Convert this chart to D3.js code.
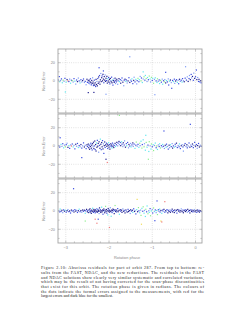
<!DOCTYPE html>
<html><head><meta charset="utf-8">
<script src="https://cdn.jsdelivr.net/npm/d3@7"></script>
<style>body{margin:0;background:#fff}svg{display:block}</style>
</head><body>
<script>
const xTicks = [-3, -2, -1, 0];
const yTicks = [-20, 0, 20];
const xLabel = "Rotation phase";
const yLabel = "Norm.Error";
const errColors = ["#1e1e8e", "#3a4ce0", "#7f9cf5", "#5ee6ee", "#8cef8c", "#f0dc5c", "#f07a7a"];
const caption = [
 "Figure 2.10: Abscissa residuals for part of orbit 287. From top to bottom: re-",
 "sults from the FAST, NDAC, and the new reductions. The residuals in the FAST",
 "and NDAC solutions show clearly very similar systematic and correlated variations,",
 "which may be the result of not having corrected for the scan-phase discontinuities",
 "that exist for this orbit. The rotation phase is given in radians. The colours of",
 "the dots indicate the formal errors assigned to the measurements, with red for the",
 "largest errors and dark blue for the smallest."
];
// [phase, residual, error class]
const fastPts = [[-3.17,1.2,2],[-3.15,4.8,1],[-3.14,-0.8,3],[-3.12,0.6,2],[-3.10,2.3,1],[-3.08,-1.9,3],[-3.06,0.9,4],[-3.04,-0.3,2],[-3.02,2.9,1],[-3.01,-12,3],[-2.99,-1.2,3],[-2.97,1.6,0],[-2.95,0.2,6],[-2.93,-0.6,1],[-2.91,2.1,2],[-2.89,-2.4,3],[-2.87,0.8,1],[-2.85,0.4,4],[-2.83,-1.1,2],[-2.81,2.6,1],[-2.79,-0.2,3],[-2.77,-3.4,2],[-2.75,1.1,1],[-2.73,-0.7,0],[-2.71,3.2,2],[-2.69,0.1,1],[-2.67,-2.1,3],[-2.65,1.4,1],[-2.63,-1.0,2],[-2.61,0.5,0],[-2.59,2.2,1],[-2.57,-1.6,2],[-2.55,-0.4,1],[-2.53,-4.1,2],[-2.51,1.9,0],[-2.50,-1.5,1],[-2.48,-12.7,0],[-2.48,0.3,0],[-2.47,-2.2,1],[-2.46,1.0,0],[-2.45,-3.0,2],[-2.44,-0.8,0],[-2.43,2.4,1],[-2.42,-1.8,0],[-2.41,-4.2,1],[-2.40,0.6,0],[-2.39,-2.7,0],[-2.38,3.5,2],[-2.37,-1.2,0],[-2.36,-5.0,1],[-2.35,-12.5,0],[-2.35,-3.3,0],[-2.34,0.9,1],[-2.33,-4.6,0],[-2.32,-2.0,0],[-2.31,-6.1,1],[-2.30,1.8,0],[-2.29,-3.8,0],[-2.28,-0.5,2],[-2.27,-5.3,0],[-2.26,2.7,1],[-2.25,-2.6,0],[-2.24,4.4,0],[-2.23,14.5,1],[-2.23,-1.1,0],[-2.22,6.0,1],[-2.21,-3.5,0],[-2.20,1.3,0],[-2.19,8.2,2],[-2.18,-0.7,0],[-2.17,3.6,0],[-2.16,5.5,1],[-2.15,0.2,0],[-2.14,7.3,0],[-2.13,11.0,1],[-2.13,2.1,0],[-2.12,-1.9,1],[-2.11,4.8,0],[-2.10,1.0,0],[-2.09,6.6,2],[-2.08,-0.4,0],[-2.07,-14.5,2],[-2.07,3.0,0],[-2.06,0.5,1],[-2.05,5.1,0],[-2.04,-2.3,0],[-2.03,2.5,3],[-2.02,0.0,0],[-2.01,3.9,1],[-2.00,-1.4,0],[-1.99,1.7,0],[-1.98,-3.1,1],[-1.97,2.8,0],[-1.96,0.3,2],[-1.95,-0.9,0],[-1.94,4.2,1],[-1.93,-2.0,0],[-1.92,1.1,3],[-1.91,-4.5,1],[-1.90,0.4,0],[-1.89,2.3,2],[-1.88,-1.5,0],[-1.87,-0.2,1],[-1.86,3.1,0],[-1.85,-2.8,2],[-1.84,0.8,0],[-1.83,-1.0,1],[-1.82,1.9,0],[-1.80,-3.6,2],[-1.79,0.2,1],[-1.77,2.6,0],[-1.76,-0.7,3],[-1.74,1.5,1],[-1.73,-2.4,0],[-1.71,0.6,2],[-1.70,3.3,1],[-1.68,-1.3,0],[-1.66,-5.2,2],[-1.65,0.9,1],[-1.63,2.0,0],[-1.61,-0.5,3],[-1.60,1.2,1],[-1.58,-2.2,2],[-1.56,0.1,0],[-1.54,3.6,1],[-1.52,26.5,2],[-1.52,-1.6,0],[-1.50,1.0,2],[-1.48,-0.3,1],[-1.47,2.4,3],[-1.45,-2.9,1],[-1.43,0.7,0],[-1.42,4.1,2],[-1.40,-1.0,1],[-1.38,1.8,3],[-1.36,-3.2,2],[-1.35,0.4,1],[-1.33,2.9,4],[-1.31,-0.8,1],[-1.30,1.5,3],[-1.28,5.0,2],[-1.26,0.2,4],[-1.25,3.3,1],[-1.23,-1.7,3],[-1.21,10.0,3],[-1.21,2.2,2],[-1.19,4.6,4],[-1.17,0.9,1],[-1.16,6.1,3],[-1.14,2.7,4],[-1.12,-0.6,2],[-1.11,3.8,3],[-1.09,1.4,1],[-1.07,5.4,4],[-1.05,2.1,3],[-1.04,-1.1,2],[-1.02,4.0,4],[-1.00,0.6,1],[-0.99,2.9,3],[-0.97,-2.5,4],[-0.95,1.8,2],[-0.94,-15.0,2],[-0.93,3.5,3],[-0.91,0.1,1],[-0.89,-1.6,3],[-0.88,2.4,4],[-0.86,-0.4,2],[-0.84,1.2,1],[-0.83,-2.8,3],[-0.81,0.7,4],[-0.79,-1.3,1],[-0.77,2.0,2],[-0.76,-3.5,3],[-0.74,0.3,1],[-0.72,-0.9,4],[-0.71,1.6,2],[-0.69,9.5,1],[-0.69,-2.1,0],[-0.67,0.5,3],[-0.65,-1.0,1],[-0.63,2.3,2],[-0.62,-4.4,1],[-0.60,-0.2,3],[-0.58,1.1,0],[-0.56,-1.8,2],[-0.55,-8.0,1],[-0.53,0.6,1],[-0.51,-0.7,3],[-0.49,2.0,1],[-0.48,-2.6,2],[-0.46,0.0,0],[-0.44,1.4,1],[-0.42,-1.5,3],[-0.40,0.8,2],[-0.39,-3.0,1],[-0.37,1.9,0],[-0.35,-0.4,2],[-0.33,0.9,1],[-0.31,-1.2,3],[-0.30,2.6,1],[-0.28,0.3,2],[-0.26,-0.8,0],[-0.24,3.1,1],[-0.23,15.6,2],[-0.21,1.0,1],[-0.19,4.5,2],[-0.17,-0.5,0],[-0.15,2.7,1],[-0.14,6.0,2],[-0.12,1.5,0],[-0.10,7.2,1],[-0.09,3.4,2],[-0.07,5.0,0],[-0.05,0.8,1],[-0.04,8.6,2],[-0.02,2.9,0],[0.00,4.7,1],[0.02,12.0,1],[0.03,1.6,0],[0.05,3.8,2],[0.07,-0.5,1],[0.08,1.8,0],[0.10,-1.0,1],[0.12,0.4,0],[0.13,-2.0,1]];
const ndacPts = [[-3.16,0.5,2],[-3.14,-1.2,1],[-3.13,9.0,1],[-3.11,1.8,3],[-3.09,-0.4,2],[-3.07,2.5,1],[-3.05,-2.0,3],[-3.03,0.9,2],[-3.01,-0.8,4],[-2.99,1.5,1],[-2.97,3.0,2],[-2.95,-1.5,0],[-2.93,0.4,3],[-2.91,-2.6,1],[-2.89,1.2,2],[-2.87,0.0,6],[-2.85,2.2,1],[-2.83,-1.0,3],[-2.81,0.7,2],[-2.79,-3.1,1],[-2.77,1.9,0],[-2.75,-0.3,2],[-2.73,2.8,1],[-2.71,-1.7,3],[-2.69,0.5,1],[-2.67,-0.9,2],[-2.65,1.6,0],[-2.63,-12.7,1],[-2.63,-2.3,1],[-2.61,0.2,2],[-2.59,3.4,1],[-2.57,-1.1,0],[-2.55,0.8,2],[-2.53,-2.9,1],[-2.51,1.3,0],[-2.50,-0.6,1],[-2.48,2.1,0],[-2.47,-1.9,0],[-2.46,0.4,1],[-2.45,-3.6,0],[-2.44,1.7,2],[-2.43,-0.5,0],[-2.42,3.0,1],[-2.41,-2.4,0],[-2.40,0.9,0],[-2.39,-4.3,1],[-2.38,2.5,0],[-2.37,-1.0,2],[-2.36,4.1,0],[-2.35,-2.8,0],[-2.34,0.1,1],[-2.33,5.4,0],[-2.32,-3.9,1],[-2.31,1.6,0],[-2.30,-5.5,0],[-2.29,3.3,3],[-2.28,-1.4,0],[-2.27,6.2,1],[-2.26,-0.2,0],[-2.25,2.8,0],[-2.24,-6.8,2],[-2.23,4.6,0],[-2.22,0.7,1],[-2.21,-2.5,0],[-2.20,7.5,3],[-2.19,1.9,0],[-2.18,-4.0,1],[-2.17,3.8,0],[-2.16,-0.9,0],[-2.15,5.9,1],[-2.14,-3.2,0],[-2.13,2.3,2],[-2.12,-8.1,1],[-2.11,0.4,0],[-2.10,4.4,0],[-2.09,-1.6,1],[-2.08,1.2,0],[-2.07,-14.5,0],[-2.06,3.1,1],[-2.05,-0.4,0],[-2.04,-18.0,6],[-2.04,2.0,0],[-2.03,-2.7,1],[-2.02,0.8,0],[-2.01,3.6,3],[-2.00,-1.2,0],[-1.99,1.5,1],[-1.98,-3.4,0],[-1.97,0.3,2],[-1.96,2.4,0],[-1.95,-0.8,1],[-1.94,1.0,0],[-1.93,-2.1,3],[-1.92,3.2,1],[-1.91,-0.3,0],[-1.90,1.8,2],[-1.89,-1.7,0],[-1.88,0.6,1],[-1.86,2.9,0],[-1.85,-0.6,3],[-1.83,1.4,1],[-1.82,4.0,0],[-1.80,0.2,2],[-1.79,3.1,1],[-1.77,5.0,0],[-1.76,33.5,4],[-1.76,1.6,2],[-1.74,3.8,1],[-1.73,0.4,0],[-1.71,4.6,3],[-1.70,2.0,1],[-1.68,-0.7,2],[-1.67,3.5,0],[-1.65,1.1,1],[-1.64,5.6,2],[-1.62,-1.3,0],[-1.60,2.6,1],[-1.59,0.3,3],[-1.57,3.9,1],[-1.55,-2.0,2],[-1.54,1.7,0],[-1.52,0.0,1],[-1.50,2.8,2],[-1.49,-1.0,3],[-1.47,1.2,1],[-1.45,3.4,0],[-1.44,-0.5,2],[-1.42,2.1,1],[-1.40,-2.6,3],[-1.38,0.9,1],[-1.37,4.3,4],[-1.35,-0.2,2],[-1.33,1.8,1],[-1.31,-1.5,3],[-1.29,3.0,4],[-1.28,0.4,2],[-1.26,5.2,3],[-1.24,-2.3,4],[-1.23,1.6,1],[-1.21,6.8,3],[-1.19,-0.9,4],[-1.18,2.5,2],[-1.16,-4.6,3],[-1.15,11.7,3],[-1.14,3.9,4],[-1.12,-1.4,3],[-1.10,1.0,1],[-1.09,-14.5,4],[-1.08,-6.0,3],[-1.07,4.7,4],[-1.05,0.2,2],[-1.03,-3.3,3],[-1.02,2.2,4],[-1.00,-0.8,1],[-0.98,1.5,3],[-0.97,-5.0,4],[-0.95,0.6,2],[-0.93,3.2,3],[-0.91,-1.9,1],[-0.90,0.0,4],[-0.88,-3.8,3],[-0.86,1.2,2],[-0.84,-0.6,1],[-0.83,2.4,3],[-0.81,-2.2,4],[-0.79,0.4,1],[-0.77,-1.1,2],[-0.76,1.7,3],[-0.74,-0.3,1],[-0.73,16.4,1],[-0.72,-2.7,2],[-0.70,0.8,0],[-0.68,-1.4,3],[-0.67,2.0,1],[-0.65,-0.5,2],[-0.63,-3.4,1],[-0.61,0.9,0],[-0.60,-1.8,2],[-0.58,1.3,3],[-0.56,-0.7,1],[-0.54,2.6,2],[-0.53,-2.3,0],[-0.51,0.1,1],[-0.49,-1.2,3],[-0.47,1.9,1],[-0.46,-0.4,2],[-0.44,3.1,0],[-0.42,-1.7,1],[-0.40,0.6,2],[-0.38,-0.9,1],[-0.37,2.3,3],[-0.35,-2.8,1],[-0.33,0.3,0],[-0.31,1.5,2],[-0.29,-1.0,1],[-0.28,-5.6,2],[-0.26,0.8,0],[-0.24,2.7,1],[-0.22,-0.6,2],[-0.20,1.4,0],[-0.19,-2.0,1],[-0.17,0.0,2],[-0.15,3.3,1],[-0.13,-1.3,0],[-0.12,23.7,1],[-0.11,1.1,2],[-0.09,-0.5,1],[-0.07,2.2,0],[-0.05,-1.8,1],[-0.04,0.7,2],[-0.02,4.0,1],[0.00,-0.2,0],[0.02,1.6,1],[0.04,-2.5,2],[0.05,0.5,0],[0.07,2.8,1],[0.09,-1.1,0],[0.11,0.9,2],[0.13,-0.4,1]];
const newPts = [[-3.16,0.3,2],[-3.14,-1.0,1],[-3.13,2.1,3],[-3.11,-0.5,1],[-3.09,0.8,0],[-3.07,-1.8,2],[-3.05,1.2,1],[-3.03,-0.2,0],[-3.01,0.9,3],[-2.99,-1.3,1],[-2.97,0.4,0],[-2.95,1.6,2],[-2.93,-0.7,1],[-2.91,0.1,0],[-2.89,-2.2,1],[-2.87,1.0,0],[-2.85,-0.4,2],[-2.83,0.6,1],[-2.82,24.4,1],[-2.81,-1.1,0],[-2.79,1.5,1],[-2.77,-0.1,0],[-2.75,0.7,2],[-2.73,-1.6,1],[-2.71,0.3,0],[-2.69,2.0,3],[-2.67,-0.8,1],[-2.65,0.5,0],[-2.63,-1.4,2],[-2.61,1.1,0],[-2.59,-0.3,1],[-2.57,0.9,0],[-2.55,-11.0,4],[-2.55,-2.5,3],[-2.54,0.2,1],[-2.52,1.8,0],[-2.50,-0.9,0],[-2.49,0.6,1],[-2.47,-1.7,0],[-2.46,1.3,0],[-2.45,-0.2,2],[-2.44,2.4,0],[-2.43,-1.0,0],[-2.42,0.4,1],[-2.41,-2.6,0],[-2.40,1.0,0],[-2.39,-0.6,0],[-2.38,3.0,3],[-2.37,0.1,0],[-2.36,-1.5,1],[-2.35,1.7,0],[-2.34,-0.4,0],[-2.33,0.8,0],[-2.32,-9.0,6],[-2.32,-2.0,1],[-2.31,1.2,0],[-2.30,-0.8,0],[-2.29,2.5,2],[-2.28,-13.4,6],[-2.28,0.0,0],[-2.27,-1.3,0],[-2.26,1.9,1],[-2.25,-9.0,1],[-2.25,-0.5,0],[-2.24,0.7,0],[-2.23,-2.8,2],[-2.22,3.4,0],[-2.21,-0.2,0],[-2.20,1.4,1],[-2.19,-1.6,0],[-2.18,0.3,0],[-2.17,4.2,3],[-2.16,-0.9,0],[-2.15,1.1,0],[-2.14,-3.5,1],[-2.13,0.6,0],[-2.12,2.2,0],[-2.11,-0.3,2],[-2.10,-1.9,0],[-2.09,0.9,0],[-2.08,5.1,4],[-2.07,-0.7,0],[-2.06,1.6,0],[-2.05,-2.4,1],[-2.04,0.2,0],[-2.03,-4.3,3],[-2.02,2.7,0],[-2.01,-0.1,0],[-2.00,1.3,1],[-1.99,-18.0,6],[-1.99,-1.2,0],[-1.98,0.5,0],[-1.97,3.6,2],[-1.96,-0.6,0],[-1.95,-5.8,3],[-1.94,1.0,0],[-1.93,-1.7,1],[-1.92,0.4,0],[-1.91,2.1,0],[-1.90,-0.3,2],[-1.89,1.5,0],[-1.88,-2.9,0],[-1.87,0.8,1],[-1.86,6.0,4],[-1.85,-0.5,0],[-1.84,1.2,0],[-1.83,-1.4,2],[-1.82,0.1,0],[-1.80,2.6,1],[-1.79,-0.8,0],[-1.77,0.6,0],[-1.76,-3.6,3],[-1.74,1.4,0],[-1.73,-0.2,1],[-1.71,0.9,0],[-1.70,-1.5,0],[-1.68,2.3,2],[-1.66,-0.4,0],[-1.65,0.7,1],[-1.63,-2.1,0],[-1.61,1.1,0],[-1.60,0.0,2],[-1.58,-1.2,0],[-1.56,1.8,1],[-1.55,-0.6,0],[-1.53,0.4,0],[-1.51,-2.7,2],[-1.50,1.3,0],[-1.48,-0.1,1],[-1.46,0.8,0],[-1.45,-1.6,3],[-1.43,2.4,1],[-1.41,-0.5,0],[-1.40,0.6,2],[-1.38,-3.2,1],[-1.36,1.5,3],[-1.35,12.7,5],[-1.34,-0.8,0],[-1.32,3.7,4],[-1.31,0.2,1],[-1.29,-1.9,3],[-1.27,1.0,2],[-1.26,-4.8,4],[-1.25,-14.5,5],[-1.24,2.9,3],[-1.22,-0.3,1],[-1.21,4.6,4],[-1.19,-2.4,3],[-1.18,0.7,2],[-1.16,-6.0,3],[-1.15,1.9,4],[-1.13,-0.9,1],[-1.12,5.5,3],[-1.10,-3.0,4],[-1.08,0.4,2],[-1.07,-1.5,3],[-1.05,2.6,1],[-1.04,-5.2,4],[-1.02,0.1,3],[-1.00,1.7,2],[-0.99,-2.2,1],[-0.97,3.3,4],[-0.95,-0.6,3],[-0.94,-10.6,1],[-0.93,1.2,1],[-0.91,-1.8,2],[-0.90,0.5,3],[-0.89,11.0,1],[-0.88,-3.9,4],[-0.86,1.4,1],[-0.85,-0.2,2],[-0.83,2.1,3],[-0.82,-1.1,1],[-0.80,-11.0,5],[-0.80,0.6,0],[-0.78,-12.0,6],[-0.78,-2.5,3],[-0.76,1.0,1],[-0.75,-0.4,2],[-0.73,1.8,0],[-0.71,10.2,6],[-0.71,-1.3,1],[-0.69,0.3,0],[-0.68,-0.8,2],[-0.66,1.5,1],[-0.64,-2.0,0],[-0.63,0.7,1],[-0.61,-0.5,0],[-0.59,1.2,2],[-0.58,-1.4,0],[-0.56,0.2,1],[-0.54,2.0,0],[-0.53,-0.9,0],[-0.51,0.5,1],[-0.49,-1.7,0],[-0.48,1.1,0],[-0.46,-0.3,2],[-0.44,0.8,0],[-0.43,-2.3,1],[-0.41,1.6,0],[-0.39,-0.1,0],[-0.38,0.9,1],[-0.36,-1.2,0],[-0.34,0.4,0],[-0.33,2.3,2],[-0.31,-0.7,0],[-0.29,1.0,1],[-0.28,-1.9,0],[-0.26,0.3,0],[-0.24,1.4,1],[-0.23,-0.6,0],[-0.21,0.7,0],[-0.19,-1.3,2],[-0.18,1.8,0],[-0.16,-0.2,1],[-0.14,0.6,0],[-0.13,-2.1,0],[-0.11,1.2,1],[-0.09,-0.5,0],[-0.08,0.9,0],[-0.06,-1.0,1],[-0.04,0.3,0],[-0.03,1.6,2],[-0.01,-0.8,0],[0.01,0.5,0],[0.03,-1.5,1],[0.04,1.1,0],[0.06,-0.3,0],[0.08,0.8,1],[0.09,-1.2,0],[0.11,0.4,0],[0.13,-0.6,1]];

const W = 250, H = 323;
const L = 58, R = 202, T0 = 49, PH = 64, GAP = 1;
const svg = d3.select("body").append("svg").attr("width", W).attr("height", H);
svg.append("rect").attr("width", W).attr("height", H).attr("fill", "#fff");

const x = d3.scaleLinear().domain([-3.18, 0.15]).range([L, R]);
const minorX = d3.range(-3.2, 0.21, 0.2).map(v => +v.toFixed(2)).filter(v => v >= -3.18 && v <= 0.15);
const minorY = [-30, -20, -10, 0, 10, 20, 30];
const axisCol = "#a4a4a4", textCol = "#8a8a8a";

[fastPts, ndacPts, newPts].forEach((pts, i) => {
  const top = T0 + i * (PH + GAP), bot = top + PH;
  const y = d3.scaleLinear().domain([-35, 35]).range([bot, top]);
  const g = svg.append("g");
  // grid
  g.selectAll(".gx").data(xTicks).enter().append("line")
    .attr("x1", d => x(d)).attr("x2", d => x(d)).attr("y1", top).attr("y2", bot)
    .attr("stroke", "#c4c4c4").attr("stroke-width", 0.6).attr("stroke-dasharray", "0.8,1.4");
  g.selectAll(".gy").data(yTicks).enter().append("line")
    .attr("x1", L).attr("x2", R).attr("y1", d => y(d)).attr("y2", d => y(d))
    .attr("stroke", "#c4c4c4").attr("stroke-width", 0.6).attr("stroke-dasharray", "0.8,1.4");
  // dots
  g.selectAll(".dot").data(pts).enter().append("rect")
    .attr("x", d => x(d[0]) - 0.6).attr("y", d => y(d[1]) - 0.6)
    .attr("width", 1.2).attr("height", 1.2)
    .attr("fill", d => errColors[d[2]]);
  // frame
  g.append("rect").attr("x", L).attr("y", top).attr("width", R - L).attr("height", PH)
    .attr("fill", "none").attr("stroke", axisCol).attr("stroke-width", 0.9);
  // ticks
  const tk = [];
  minorX.forEach(v => { const len = xTicks.includes(v) ? 2.4 : 1.6;
    tk.push([x(v), top, x(v), top + len], [x(v), bot, x(v), bot - len]); });
  minorY.forEach(v => { const len = yTicks.includes(v) ? 2.4 : 1.6;
    tk.push([L, y(v), L + len, y(v)], [R, y(v), R - len, y(v)]); });
  g.selectAll(".tk").data(tk).enter().append("line")
    .attr("x1", d => d[0]).attr("y1", d => d[1]).attr("x2", d => d[2]).attr("y2", d => d[3])
    .attr("stroke", axisCol).attr("stroke-width", 0.6);
  // y tick labels
  g.selectAll(".yl").data(yTicks).enter().append("text")
    .attr("x", L - 3).attr("y", d => y(d) + 1.3).attr("text-anchor", "end")
    .attr("font-family", "Liberation Sans, Arial, sans-serif").attr("font-size", 3.9)
    .attr("fill", textCol).text(d => d < 0 ? "\u2212" + Math.abs(d) : d);
  g.append("text").attr("transform", `translate(${L - 13},${(top + bot) / 2}) rotate(-90)`)
    .attr("text-anchor", "middle").attr("font-family", "Liberation Sans, Arial, sans-serif")
    .attr("font-size", 3.9).attr("fill", textCol).text(yLabel);
  if (i === 2) {
    g.selectAll(".xl").data(xTicks).enter().append("text")
      .attr("x", d => x(d)).attr("y", bot + 6.3).attr("text-anchor", "middle")
      .attr("font-family", "Liberation Sans, Arial, sans-serif").attr("font-size", 3.9)
      .attr("fill", textCol).text(d => d < 0 ? "\u2212" + Math.abs(d) : d);
    g.append("text").attr("x", 127).attr("y", bot + 15.6).attr("text-anchor", "middle")
      .attr("font-family", "Liberation Sans, Arial, sans-serif").attr("font-size", 3.9)
      .attr("fill", textCol).text(xLabel);
  }
});

// caption
const capL = 41, capR = 204, capY = 269.2, capDy = 4.67;
svg.selectAll(".cap").data(caption).enter().append("text")
  .attr("x", capL).attr("y", (d, i) => capY + i * capDy)
  .attr("font-family", "Liberation Serif, Times New Roman, serif").attr("font-size", 4.1)
  .attr("fill", "#222")
  .each(function (d, i) {
    if (i < caption.length - 1) d3.select(this).attr("textLength", capR - capL).attr("lengthAdjust", "spacing");
  })
  .text(d => d);
</script>
</body></html>
